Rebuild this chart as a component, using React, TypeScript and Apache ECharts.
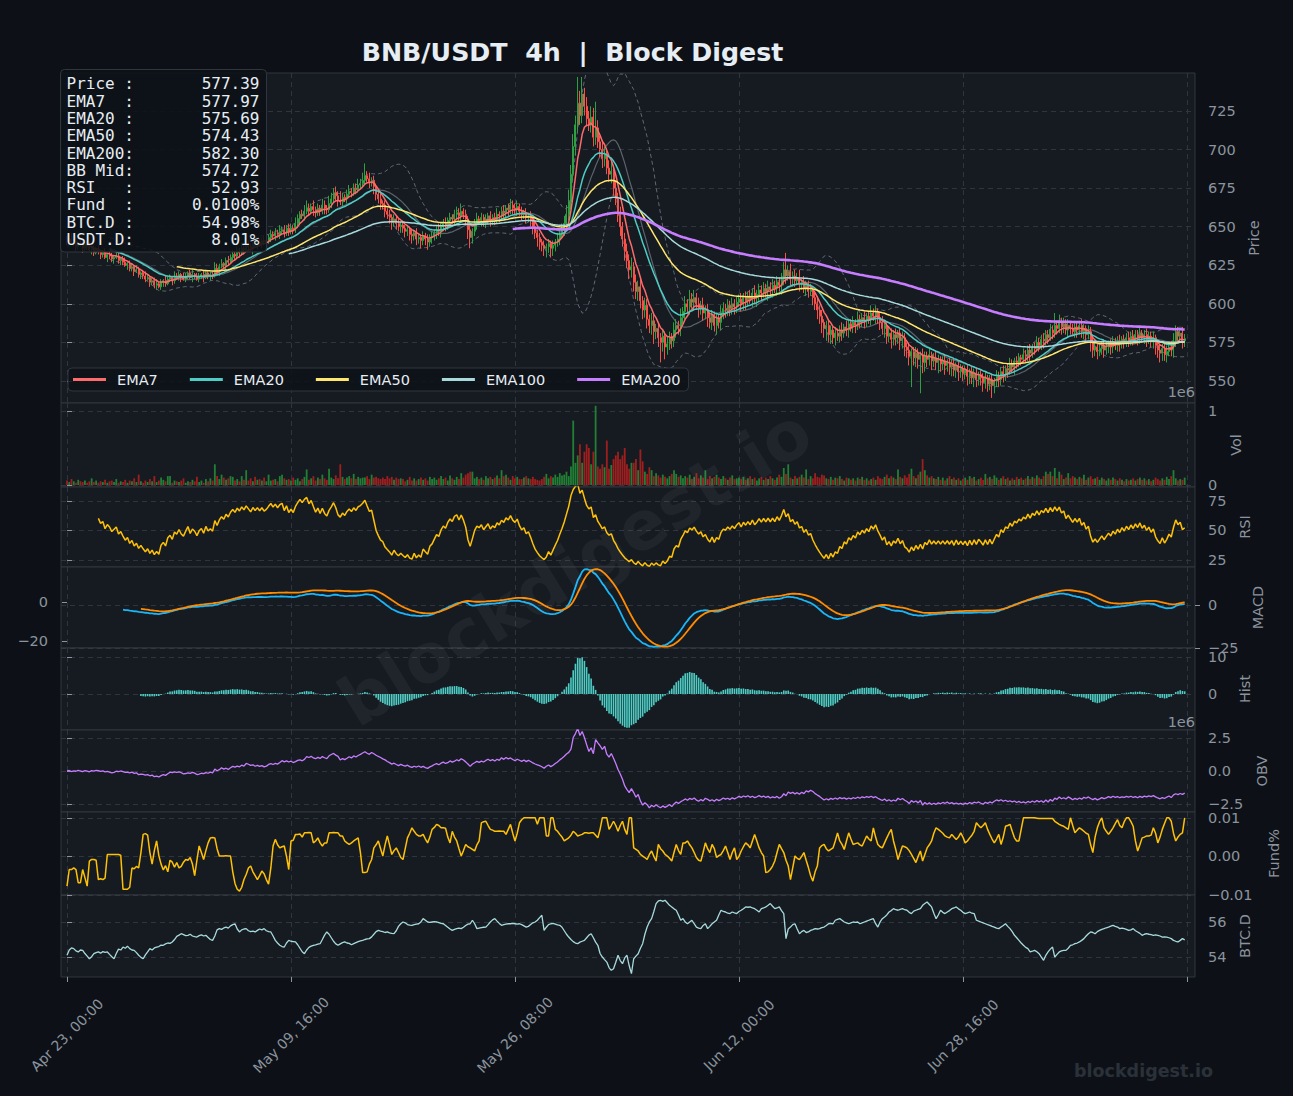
import React, { useEffect, useRef } from "react";
import * as echarts from "echarts";

// ---------------- data ----------------
const closes: number[] = [
  640,642,639,641,637,639,638,636,639,637,635,636,633,635,634,632,633,630,632,631,629,630,631,628,629,
  627,625,626,623,624,621,622,619,620,618,616,617,614,615,612,613,611,614,615,613,616,617,615,618,617,
  619,617,616,618,620,617,619,618,616,618,619,617,620,618,619,618,623,621,624,626,625,628,627,630,632,
  631,634,633,636,635,638,637,636,639,638,640,639,641,640,641,643,645,644,646,645,647,648,646,649,647,
  649,648,652,655,658,657,660,662,660,663,661,659,662,660,664,662,661,665,668,672,670,667,666,669,668,
  671,673,672,675,674,677,678,680,683,681,679,680,676,671,668,665,664,660,658,656,653,655,652,650,651,
  649,647,648,645,644,646,642,643,641,644,642,640,643,644,646,648,647,650,652,651,654,656,655,658,659,
  657,660,658,655,648,643,647,652,655,654,656,653,655,657,654,656,655,658,657,660,659,662,661,664,662,
  661,663,660,658,659,656,657,654,650,646,643,640,638,636,637,639,636,638,640,642,645,648,652,658,666,
  684,702,716,730,722,736,728,720,716,721,708,714,705,700,694,697,688,684,686,675,668,658,650,642,634,
  628,622,624,614,608,611,602,596,599,590,586,589,582,584,578,575,579,572,574,578,576,583,586,584,591,
  595,600,598,603,601,604,600,597,599,594,596,591,588,592,586,590,588,594,597,596,599,597,600,598,601,
  603,600,604,602,605,603,607,604,606,609,607,610,608,611,609,612,610,614,612,616,622,618,621,616,618,
  615,617,613,614,610,612,608,609,604,600,596,592,588,584,586,580,583,578,581,579,583,581,585,583,587,
  585,588,586,590,588,591,589,592,590,594,592,595,591,588,584,586,579,581,577,580,578,581,576,578,572,
  570,566,569,565,568,564,567,562,566,564,567,563,565,562,564,561,563,560,562,559,561,557,560,556,558,
  555,557,553,556,552,555,551,554,552,549,552,548,551,547,550,553,551,556,554,558,557,561,559,563,562,
  565,564,567,566,570,568,572,571,575,573,577,576,580,578,583,581,586,584,588,585,587,583,586,584,582,
  585,583,586,582,584,580,582,575,570,572,569,571,573,570,572,574,572,575,573,576,574,577,575,578,576,
  579,577,580,578,581,578,580,577,579,576,578,573,570,568,571,567,569,572,570,576,582,579,581,576,577.39,
];

// upper wick length above the candle body
const wickHigh: number[] = [
  3,2,4,1,3,2,2,3,1,2,3,1,2,2,3,1,2,3,1,2,2,1,3,2,1,
  2,3,1,2,2,1,3,2,1,2,3,2,1,2,2,3,1,2,1,3,2,2,1,3,2,
  2,1,3,2,1,2,3,1,2,2,1,3,2,1,2,2,4,3,2,3,1,2,3,2,3,
  2,3,2,4,2,5,3,2,3,2,3,2,2,3,1,2,3,2,3,2,4,2,3,2,3,
  3,2,4,3,2,3,4,5,3,2,4,2,3,2,4,3,2,5,4,3,4,3,6,3,2,
  3,4,2,3,3,4,3,5,8,3,4,2,3,2,3,4,2,3,2,3,2,3,2,3,2,
  3,2,3,2,3,2,3,2,2,3,2,3,2,3,2,3,4,2,3,4,2,3,2,3,4,
  3,5,2,3,2,3,2,3,4,2,3,2,3,2,3,2,3,4,2,3,4,2,3,4,3,
  3,4,2,3,2,3,2,3,2,3,2,3,2,3,2,3,2,3,2,4,3,4,5,6,8,
  6,8,6,17,8,11,4,6,5,7,6,17,5,4,6,5,4,5,6,4,5,4,5,3,4,
  5,4,6,3,5,4,6,3,5,4,3,5,4,3,4,3,4,3,5,4,3,5,4,3,6,
  3,5,3,6,4,5,3,4,3,5,3,4,3,4,3,4,3,5,4,3,4,3,4,3,4,
  3,4,3,4,3,4,3,5,3,4,3,4,3,4,3,4,3,4,3,4,5,11,4,5,3,
  4,3,5,2,4,3,3,4,2,3,5,3,4,2,3,4,3,2,4,3,3,5,2,4,3,
  3,4,2,5,3,3,4,2,3,5,3,4,2,3,4,3,2,4,3,3,4,2,3,4,3,
  3,4,2,3,4,3,2,4,3,3,4,2,3,4,3,2,3,4,2,3,3,4,2,3,3,
  2,3,4,2,3,3,4,2,3,3,4,2,3,3,2,4,3,3,4,2,3,4,3,2,3,
  3,2,4,3,3,4,2,3,4,3,3,4,3,3,4,3,8,3,5,3,4,3,4,2,3,
  4,3,3,4,3,2,4,3,3,4,2,3,3,4,3,2,3,4,3,3,4,2,3,3,4,
  3,4,3,3,4,2,3,4,3,3,4,2,3,4,3,3,4,3,4,5,4,3,3,4,3,
];

// lower wick length below the candle body
const wickLow: number[] = [
  2,3,1,2,3,2,1,3,2,2,1,3,2,1,2,3,2,1,3,2,2,3,1,2,3,
  2,1,3,2,2,3,1,2,3,2,2,1,3,2,2,3,1,2,3,2,1,2,3,2,1,
  2,3,1,2,2,1,3,2,1,2,2,3,1,2,3,2,1,2,3,1,2,3,2,1,2,
  3,2,3,2,3,2,3,2,4,2,3,2,3,2,3,2,3,2,3,2,3,2,3,2,3,
  2,3,2,3,4,2,3,2,3,2,4,3,2,3,2,4,3,2,3,2,3,4,2,3,2,
  3,2,3,2,3,2,3,2,3,2,4,3,5,4,3,4,3,4,3,4,5,3,4,3,4,
  3,4,3,4,5,3,4,3,5,3,4,5,3,4,3,4,3,4,3,4,3,4,3,4,3,
  3,4,3,4,6,7,4,3,4,3,4,3,4,3,4,3,4,3,4,3,4,3,4,3,4,
  3,4,3,4,3,4,3,4,5,4,6,5,4,5,6,4,6,5,4,3,4,3,4,3,4,
  5,4,6,5,6,5,6,5,4,5,6,5,4,5,6,5,4,5,6,5,4,5,6,5,6,
  5,6,5,6,5,6,5,6,5,6,5,6,8,5,6,13,6,8,5,4,5,4,5,4,5,
  4,5,4,5,4,5,4,6,4,5,4,6,4,5,4,6,4,5,4,5,4,5,4,5,4,
  3,5,4,6,4,3,5,4,6,4,5,3,4,6,4,5,3,5,4,6,4,5,3,4,5,
  4,3,5,4,3,5,4,3,5,4,6,5,7,6,8,5,6,4,5,3,4,5,3,4,5,
  3,4,5,3,4,3,5,4,3,4,3,5,4,5,4,6,5,4,6,4,5,4,6,5,6,
  5,6,20,5,6,6,22,7,6,5,4,6,4,5,7,5,4,6,4,5,6,4,5,6,4,
  5,4,6,5,4,6,5,4,5,6,4,5,4,8,5,4,5,4,5,4,5,3,4,5,4,
  3,4,2,4,3,5,3,4,2,4,3,5,3,4,2,4,3,4,3,5,4,3,5,4,3,
  4,5,3,4,5,4,3,6,5,4,5,3,4,5,3,4,5,4,3,4,5,3,4,3,4,
  3,4,3,5,4,3,4,5,3,4,5,6,5,6,5,4,5,3,4,5,4,3,4,5,4,
];

// volume in units of 10 000
const volume1e4: number[] = [
  6,4,8,5,3,7,5,4,6,3,5,9,4,6,3,5,4,7,3,5,6,4,8,3,5,
  4,7,3,6,5,9,4,14,5,3,6,4,8,5,12,4,6,10,7,5,12,12,3,6,5,
  4,6,9,3,5,4,7,5,11,4,6,3,8,5,9,6,28,12,8,14,10,7,9,12,11,
  6,8,5,12,7,20,6,9,5,11,7,8,6,10,5,14,6,7,8,5,12,14,9,7,8,
  6,10,7,9,5,8,11,21,7,9,12,6,10,8,14,9,7,22,10,8,13,9,28,11,8,
  10,12,9,15,8,11,9,10,10,12,8,14,10,11,9,8,10,8,12,9,11,7,10,8,9,
  8,5,7,11,6,9,6,8,10,7,9,6,11,8,10,7,9,12,8,10,6,13,9,7,11,
  8,16,10,14,16,18,18,9,11,8,10,7,12,9,11,8,10,13,9,20,12,14,10,7,12,
  9,11,8,8,10,12,9,8,11,8,7,6,8,11,15,9,12,10,14,11,16,13,14,18,12,
  25,87,30,40,55,30,45,55,50,28,45,107,25,22,28,24,60,22,27,35,40,45,35,40,50,
  28,22,30,30,35,20,48,32,18,15,24,20,12,16,13,10,14,11,9,12,15,20,15,11,13,
  9,12,10,14,8,11,16,9,13,10,20,8,12,9,11,14,10,8,12,9,7,10,13,8,9,
  10,8,11,7,9,12,8,10,6,9,11,7,10,8,12,9,7,10,14,11,23,15,28,10,8,
  12,9,11,14,10,21,8,12,9,16,11,10,14,13,9,8,11,7,10,9,12,8,6,10,9,
  7,9,6,10,8,11,7,9,6,8,10,7,12,9,8,11,14,9,12,10,8,21,11,9,13,
  10,15,22,12,9,14,18,35,20,13,10,12,9,8,11,7,10,6,9,12,8,10,7,9,6,
  8,10,7,12,9,11,6,8,10,7,15,9,11,8,13,10,7,9,12,8,10,6,9,7,11,
  8,10,7,9,12,8,11,9,13,10,8,12,18,15,18,12,23,9,18,14,8,10,16,9,12,
  10,8,11,9,14,7,10,12,8,9,11,7,10,8,6,9,7,10,8,6,9,7,5,8,6,
  7,9,6,8,10,7,9,6,8,5,7,10,8,6,9,7,11,8,12,20,9,6,8,7,10,
];

// funding rate in units of 0.0001 (%), 100 = 0.01
const fundE4: number[] = [
  -77,-34,-34,-30,-34,-68,-68,-34,-55,-77,-12,-8,-8,-10,-60,-58,-60,-56,5,5,5,5,5,5,3,
  -85,-85,-85,-80,-30,-32,-26,-30,10,57,59,55,10,-20,15,40,2,-20,-35,-24,-40,-10,-15,-28,-16,
  -30,-26,-15,-8,-10,-3,-20,-50,-10,27,10,-8,15,35,48,49,48,20,1,1,1,2,1,1,-40,
  -70,-85,-90,-80,-60,-47,-30,-25,-40,-50,-60,-50,-38,-45,-60,-72,-30,27,44,30,22,25,27,0,-34,
  40,42,57,57,58,50,61,61,62,61,35,40,48,35,27,35,35,61,61,62,61,61,53,53,40,
  35,31,35,40,44,48,10,-42,-42,-40,-20,-8,22,30,40,20,1,30,53,30,5,15,22,10,-3,
  -8,20,48,60,74,65,57,53,53,57,45,35,50,70,75,83,80,74,74,73,50,35,65,50,40,
  20,1,15,31,25,22,18,14,30,40,87,90,91,80,70,68,65,65,66,65,65,57,70,83,60,
  40,60,87,95,100,100,100,100,100,100,83,100,100,100,53,53,100,100,70,65,57,50,40,44,48,
  55,65,60,53,55,57,61,61,60,61,61,55,48,70,100,100,100,70,80,91,80,65,80,91,70,
  57,100,100,22,18,14,5,1,-3,-8,5,14,0,-12,31,20,14,5,1,-5,-12,10,31,15,5,
  35,35,40,30,22,10,-3,-10,-12,10,35,20,10,31,20,-3,2,5,15,27,10,-8,10,22,-8,
  0,14,25,35,30,22,40,57,40,22,10,1,-42,-40,-34,-25,-12,10,31,20,10,-10,-25,-60,-30,
  1,-5,-8,0,10,-10,-29,-50,-64,-40,-25,22,28,31,20,14,18,22,40,61,40,31,18,40,61,
  45,31,33,35,30,27,40,53,45,40,74,50,31,25,22,35,48,60,70,40,18,-8,10,27,25,
  22,15,5,-5,-16,0,14,-12,5,22,30,40,60,74,70,65,60,53,50,48,57,50,44,50,61,
  50,35,40,48,55,65,87,80,74,80,87,70,57,45,35,45,57,31,50,78,80,83,65,48,40,
  40,70,100,100,100,100,100,100,99,98,98,98,98,98,98,98,91,87,83,80,78,74,70,100,80,
  61,68,74,70,65,60,57,30,10,50,74,90,100,74,65,57,65,74,85,95,80,74,90,100,100,
  90,78,40,14,30,48,50,53,53,55,74,60,35,50,70,85,100,100,91,60,40,50,57,61,100,
];

// BTC dominance in hundredths of a percent
const btcDx100: number[] = [
  5410,5440,5452,5448,5435,5429,5440,5438,5420,5405,5390,5402,5419,5425,5429,5422,5431,5426,5429,5415,5402,5390,5420,5445,5440,
  5457,5450,5462,5448,5440,5438,5425,5410,5398,5390,5412,5430,5448,5440,5452,5457,5460,5468,5467,5475,5480,5478,5486,5500,5518,
  5525,5533,5528,5522,5524,5530,5520,5516,5514,5522,5526,5520,5524,5512,5500,5495,5520,5555,5562,5558,5566,5571,5565,5578,5585,
  5590,5560,5543,5555,5560,5562,5550,5545,5548,5543,5552,5560,5555,5562,5550,5545,5543,5520,5495,5480,5467,5460,5457,5480,5495,
  5490,5488,5486,5470,5450,5430,5419,5440,5455,5462,5467,5470,5474,5476,5500,5525,5543,5530,5510,5490,5475,5467,5475,5482,5486,
  5480,5478,5470,5476,5482,5488,5492,5495,5500,5503,5505,5515,5530,5545,5552,5548,5545,5540,5543,5538,5535,5533,5550,5575,5590,
  5600,5595,5585,5582,5581,5585,5588,5590,5600,5619,5610,5600,5598,5600,5602,5600,5596,5592,5590,5580,5570,5560,5552,5558,5562,
  5565,5562,5570,5580,5588,5590,5610,5590,5562,5565,5568,5570,5571,5585,5600,5612,5619,5605,5592,5581,5585,5588,5590,5590,5592,
  5590,5588,5590,5585,5578,5571,5575,5585,5595,5600,5610,5625,5638,5552,5570,5585,5590,5592,5588,5584,5581,5570,5550,5530,5514,
  5500,5488,5480,5476,5485,5490,5495,5510,5525,5533,5510,5485,5467,5420,5400,5385,5371,5340,5324,5333,5370,5410,5380,5362,5395,
  5410,5350,5305,5390,5405,5419,5450,5476,5530,5571,5600,5619,5660,5705,5720,5724,5718,5724,5710,5695,5686,5675,5667,5640,5610,
  5619,5600,5590,5600,5610,5590,5571,5565,5562,5580,5590,5562,5575,5590,5600,5610,5640,5667,5660,5657,5650,5648,5657,5652,5648,
  5660,5667,5676,5686,5684,5686,5680,5676,5667,5657,5676,5680,5686,5695,5705,5690,5676,5680,5686,5665,5648,5505,5560,5571,5585,
  5590,5560,5533,5545,5552,5540,5543,5552,5556,5562,5560,5562,5568,5571,5580,5590,5592,5590,5610,5615,5619,5610,5600,5595,5590,
  5595,5600,5598,5600,5590,5595,5600,5605,5610,5615,5619,5590,5571,5600,5619,5629,5640,5657,5665,5676,5670,5667,5672,5676,5670,
  5667,5655,5648,5662,5667,5672,5676,5695,5705,5714,5700,5686,5650,5619,5640,5667,5655,5648,5657,5665,5676,5680,5686,5675,5667,
  5655,5648,5652,5657,5650,5648,5610,5605,5600,5595,5590,5585,5581,5575,5571,5565,5562,5571,5580,5590,5575,5562,5545,5524,5510,
  5495,5480,5467,5455,5448,5429,5433,5438,5430,5419,5400,5381,5410,5429,5445,5457,5400,5415,5429,5435,5438,5438,5450,5467,5470,
  5476,5480,5486,5495,5505,5520,5533,5543,5540,5533,5545,5552,5558,5562,5567,5571,5576,5581,5575,5571,5562,5565,5562,5558,5552,
  5555,5562,5550,5543,5535,5524,5530,5533,5530,5528,5524,5526,5524,5520,5514,5515,5514,5510,5505,5495,5490,5486,5495,5505,5498,
];

const xTickIdx = [0, 100, 200, 300, 400, 500];
const xTickLabels = ["Apr 23, 00:00", "May 09, 16:00", "May 26, 08:00", "Jun 12, 00:00", "Jun 28, 16:00", ""];
const emaSpans = [7, 20, 50, 100, 200];
const emaNames = ["EMA7", "EMA20", "EMA50", "EMA100", "EMA200"];
const emaColors = ["#ff6b6b", "#4ecdc4", "#ffe66d", "#a8dadc", "#c77dff"];
const infoLabels = ["Price", "EMA7", "EMA20", "EMA50", "EMA200", "BB Mid", "RSI", "Fund", "BTC.D", "USDT.D"];
const infoValues = ["577.39", "577.97", "575.69", "574.43", "582.30", "574.72", "52.93", "0.0100%", "54.98%", "8.01%"];
const priceTicks = [550, 575, 600, 625, 650, 675, 700, 725];
const volTicks = [0, 1];
const rsiTicks = [25, 50, 75];
const macdLeftTicks = [-20, 0];
const macdRightTicks = [-25, 0];
const histTicks = [0, 10];
const obvTicks = [-2.5, 0, 2.5];
const fundTicks = [-0.01, 0, 0.01];
const btcTicks = [54, 56];

// ---------------- indicator helpers ----------------
function emaFull(vals: number[], span: number): number[] {
  const a = 2 / (span + 1);
  const out: number[] = [];
  let p = vals[0];
  for (let i = 0; i < vals.length; i++) {
    p = i === 0 ? vals[0] : a * vals[i] + (1 - a) * p;
    out.push(p);
  }
  return out;
}
function masked(vals: number[], first: number): (number | null)[] {
  return vals.map((v, i) => (i >= first ? v : null));
}
function pairs(vals: (number | null)[]): number[][] {
  const out: number[][] = [];
  vals.forEach((v, i) => {
    if (v !== null && v !== undefined && !isNaN(v)) out.push([i, v]);
  });
  return out;
}
const minus = (s: string) => s.replace("-", "\u2212");

// ---------------- layout ----------------
const FONT = "DejaVu Sans";
const AXIS_COLOR = "#8b949e";
const GRID_LINE = "#363c45";
const PANEL_BG = "#161b22";
const PANEL_BORDER = "#30363d";
const panels: number[][] = [
  [73, 330], [403, 84], [487, 80], [567, 81], [648, 82], [730, 82], [812, 83], [895, 82],
];
const X_MIN = -2.68;
const X_MAX = 503.6;

function buildOption() {
  const n = closes.length;
  const opens = closes.map((c, i) => (i === 0 ? 641 : closes[i - 1]));
  const highs = closes.map((c, i) => Math.max(c, opens[i]) + wickHigh[i]);
  const lows = closes.map((c, i) => Math.min(c, opens[i]) - wickLow[i]);

  const emas = emaSpans.map((s) => masked(emaFull(closes, s), s - 1));

  // Bollinger 20, 2
  const bbMid: (number | null)[] = [];
  const bbUp: (number | null)[] = [];
  const bbLo: (number | null)[] = [];
  for (let i = 0; i < n; i++) {
    if (i < 19) { bbMid.push(null); bbUp.push(null); bbLo.push(null); continue; }
    const w = closes.slice(i - 19, i + 1);
    const m = w.reduce((a, b) => a + b, 0) / 20;
    const sd = Math.sqrt(w.reduce((a, b) => a + (b - m) * (b - m), 0) / 19);
    bbMid.push(m); bbUp.push(m + 2 * sd); bbLo.push(m - 2 * sd);
  }

  // RSI 14 (Wilder)
  const rsi: (number | null)[] = [null];
  let ag = 0, al = 0;
  for (let i = 1; i < n; i++) {
    const d = closes[i] - closes[i - 1];
    const g = Math.max(d, 0), l = Math.max(-d, 0);
    if (i === 1) { ag = g; al = l; } else { ag += (g - ag) / 14; al += (l - al) / 14; }
    rsi.push(i >= 14 ? (al === 0 ? 100 : 100 - 100 / (1 + ag / al)) : null);
  }

  // MACD 12/26/9
  const e12 = emaFull(closes, 12), e26 = emaFull(closes, 26);
  const macd: (number | null)[] = closes.map((_, i) => (i >= 25 ? e12[i] - e26[i] : null));
  const sig: (number | null)[] = closes.map(() => null);
  const a9 = 2 / 10;
  let ps = 0;
  for (let i = 25; i < n; i++) {
    ps = i === 25 ? (macd[i] as number) : a9 * (macd[i] as number) + (1 - a9) * ps;
    if (i >= 33) sig[i] = ps;
  }
  const hist: (number | null)[] = closes.map((_, i) => (sig[i] !== null ? (macd[i] as number) - (sig[i] as number) : null));

  // OBV (in 1e6)
  const obv: number[] = [0];
  for (let i = 1; i < n; i++) {
    const d = closes[i] - closes[i - 1];
    const v = volume1e4[i] / 100;
    obv.push(obv[i - 1] + (d > 0 ? v : d < 0 ? -v : 0));
  }

  const grids = panels.map(([top, height]) => ({
    left: 61, right: 98, top, height, show: true,
    backgroundColor: PANEL_BG, borderColor: PANEL_BORDER, borderWidth: 1, containLabel: false,
  }));

  const xAxes = panels.map((_, k) => ({
    type: "value", gridIndex: k, min: X_MIN, max: X_MAX,
    axisLine: { show: false },
    axisTick: { show: k === 7, customValues: xTickIdx, length: 5, lineStyle: { color: AXIS_COLOR } },
    axisLabel: {
      show: k === 7, customValues: xTickIdx, rotate: 45, align: "center", verticalAlign: "middle",
      margin: 58, color: AXIS_COLOR, fontSize: 14, fontFamily: FONT,
      formatter: (v: number) => {
        const j = xTickIdx.indexOf(Math.round(v));
        return j >= 0 ? xTickLabels[j] : "";
      },
    },
    splitLine: { show: true, lineStyle: { color: GRID_LINE, type: [5, 4], width: 0.8 } },
  }));

  const yAx = (grid: number, min: number, max: number, ticks: number[], name: string, gap: number,
    fmt: (v: number) => string, pos = "right", split = true) => ({
    type: "value", gridIndex: grid, position: pos, min, max,
    name, nameLocation: "middle", nameRotate: 90, nameGap: gap,
    nameTextStyle: { color: AXIS_COLOR, fontSize: 14.5, fontFamily: FONT },
    axisLine: { show: false },
    axisTick: { show: true, customValues: ticks, length: 5, lineStyle: { color: AXIS_COLOR } },
    axisLabel: { customValues: ticks, margin: 13, color: AXIS_COLOR, fontSize: 14.5, fontFamily: FONT, formatter: fmt },
    splitLine: { show: split, lineStyle: { color: GRID_LINE, type: [5, 4], width: 0.8 } },
  });

  // yAxis indices: 0 price, 1 vol, 2 rsi, 3 macd-left, 4 macd-right, 5 hist, 6 obv, 7 fund, 8 btc
  const yAxes = [
    yAx(0, 535.7, 749.6, priceTicks, "Price", 51, (v) => String(v)),
    yAx(1, -0.027, 1.108, volTicks, "Vol", 25, (v) => String(Math.round(v))),
    yAx(2, 19.2, 86.7, rsiTicks, "RSI", 41, (v) => String(v)),
    yAx(3, -23.6, 17.9, macdLeftTicks, "", 0, (v) => minus(String(v)), "left", false),
    yAx(3, -25, 22.1, macdRightTicks, "MACD", 55, (v) => minus(String(v))),
    yAx(4, -9.7, 12.4, histTicks, "Hist", 41, (v) => String(v)),
    yAx(5, -3.1, 3.1, obvTicks, "OBV", 59, (v) => minus(v.toFixed(1))),
    yAx(6, -0.01, 0.0115, fundTicks, "Fund%", 71, (v) => minus(v.toFixed(2))),
    yAx(7, 52.86, 57.54, btcTicks, "BTC.D", 40, (v) => String(v)),
  ];

  const line = (name: string, xi: number, yi: number, data: number[][], color: string, width: number, extra: any = {}) => ({
    type: "line", name, xAxisIndex: xi, yAxisIndex: yi, data, showSymbol: false, symbol: "none",
    color, lineStyle: { color, width, ...(extra.lineStyle || {}) }, silent: true, clip: true, z: extra.z ?? 3,
  });

  const series: any[] = [
    line("BB Upper", 0, 0, pairs(bbUp), "#6e7681", 1, { lineStyle: { type: [4, 3], opacity: 0.85 }, z: 1 }),
    line("BB Lower", 0, 0, pairs(bbLo), "#6e7681", 1, { lineStyle: { type: [4, 3], opacity: 0.85 }, z: 1 }),
    line("BB Mid", 0, 0, pairs(bbMid), "#8b949e", 1.2, { lineStyle: { opacity: 0.6 }, z: 1 }),
    {
      type: "candlestick", name: "Price", xAxisIndex: 0, yAxisIndex: 0, barWidth: 1.5, silent: true, clip: true, z: 2,
      encode: { x: 0, y: [1, 2, 3, 4] },
      data: closes.map((c, i) => [i, opens[i], c, lows[i], highs[i]]),
      itemStyle: { color: "#2ea043", color0: "#f85149", borderColor: "#2ea043", borderColor0: "#f85149", borderWidth: 1 },
    },
    ...emaNames.map((nm, j) => line(nm, 0, 0, pairs(emas[j]), emaColors[j], j === 4 ? 2.6 : 1.5, { z: 4 })),
    {
      type: "bar", name: "Vol", xAxisIndex: 1, yAxisIndex: 1, barWidth: 1.8, silent: true,
      data: volume1e4.map((v, i) => ({
        value: [i, v / 100],
        itemStyle: { color: closes[i] >= opens[i] ? "#238636" : "#a8201f", opacity: 0.95 },
      })),
    },
    line("RSI", 2, 2, pairs(rsi), "#ffc107", 1.5),
    line("MACD", 3, 4, pairs(macd), "#1cb5f5", 1.8),
    line("Signal", 3, 3, pairs(sig), "#ff8c00", 1.8, { z: 4 }),
    {
      type: "bar", name: "Hist", xAxisIndex: 4, yAxisIndex: 5, barWidth: 1.6, silent: true,
      data: pairs(hist), itemStyle: { color: "#4ecdc4" },
    },
    line("OBV", 5, 6, pairs(obv), "#c77dff", 1.3),
    line("Fund", 6, 7, pairs(fundE4.map((v) => v / 10000)), "#ffc107", 1.5),
    line("BTC.D", 7, 8, pairs(btcDx100.map((v) => v / 100)), "#a8dadc", 1.3),
  ];

  const graphics: any[] = [
    {
      type: "text", x: 572.5, y: 52, z: 100,
      style: { text: "BNB/USDT  4h  |  Block Digest", fill: "#e6edf3", fontSize: 25.3, fontWeight: "bold", fontFamily: FONT, align: "center", verticalAlign: "middle" },
    },
    {
      type: "text", x: 575, y: 567, rotation: (31.7 * Math.PI) / 180, z: 90, silent: true,
      style: { text: "blockdigest.io", fill: "rgba(255,255,255,0.045)", fontSize: 68, fontWeight: "bold", fontFamily: FONT, align: "center", verticalAlign: "middle" },
    },
    {
      type: "text", x: 1213, y: 1071, z: 100,
      style: { text: "blockdigest.io", fill: "#2b3139", fontSize: 17.5, fontWeight: "bold", fontFamily: FONT, align: "right", verticalAlign: "middle" },
    },
    {
      type: "text", x: 1195, y: 392, z: 100,
      style: { text: "1e6", fill: AXIS_COLOR, fontSize: 14.5, fontFamily: FONT, align: "right", verticalAlign: "middle" },
    },
    {
      type: "text", x: 1195, y: 722, z: 100,
      style: { text: "1e6", fill: AXIS_COLOR, fontSize: 14.5, fontFamily: FONT, align: "right", verticalAlign: "middle" },
    },
    {
      type: "rect", z: 100, shape: { x: 60.5, y: 69.5, width: 206, height: 182.5, r: 4 },
      style: { fill: "rgba(13,17,23,0.88)", stroke: "#30363d", lineWidth: 1 },
    },
  ];
  infoLabels.forEach((lab, k) => {
    const y = 83.8 + 17.3 * k;
    const mono = { fill: "#e6edf3", fontSize: 16, fontFamily: "DejaVu Sans Mono", verticalAlign: "middle" };
    graphics.push({ type: "text", x: 66.5, y, z: 101, style: { ...mono, text: lab, align: "left" } });
    graphics.push({ type: "text", x: 124.3, y, z: 101, style: { ...mono, text: ":", align: "left" } });
    graphics.push({ type: "text", x: 259.5, y, z: 101, style: { ...mono, text: infoValues[k], align: "right" } });
  });

  return {
    animation: false,
    backgroundColor: "#0d1117",
    textStyle: { fontFamily: FONT },
    grid: grids,
    xAxis: xAxes,
    yAxis: yAxes,
    legend: {
      data: emaNames, left: 68, top: 368, orient: "horizontal", icon: "rect",
      itemWidth: 33, itemHeight: 3, itemGap: 32, padding: [4, 8, 4, 5],
      backgroundColor: "rgba(13,17,23,0.85)", borderColor: "#30363d", borderWidth: 1, borderRadius: 4,
      textStyle: { color: "#e6edf3", fontSize: 14.5, fontFamily: FONT, padding: [0, 0, 0, 6] },
      selectedMode: false, z: 20,
    },
    series,
    graphic: graphics,
  };
}

export default function App() {
  const ref = useRef<HTMLDivElement>(null);
  useEffect(() => {
    if (!ref.current) return;
    const chart = echarts.init(ref.current, undefined, { renderer: "svg" });
    chart.setOption(buildOption() as any);
    return () => chart.dispose();
  }, []);
  return (
    <div
      ref={ref}
      style={{ position: "absolute", left: 0, top: 0, width: 1293, height: 1096, background: "#0d1117" }}
    />
  );
}
